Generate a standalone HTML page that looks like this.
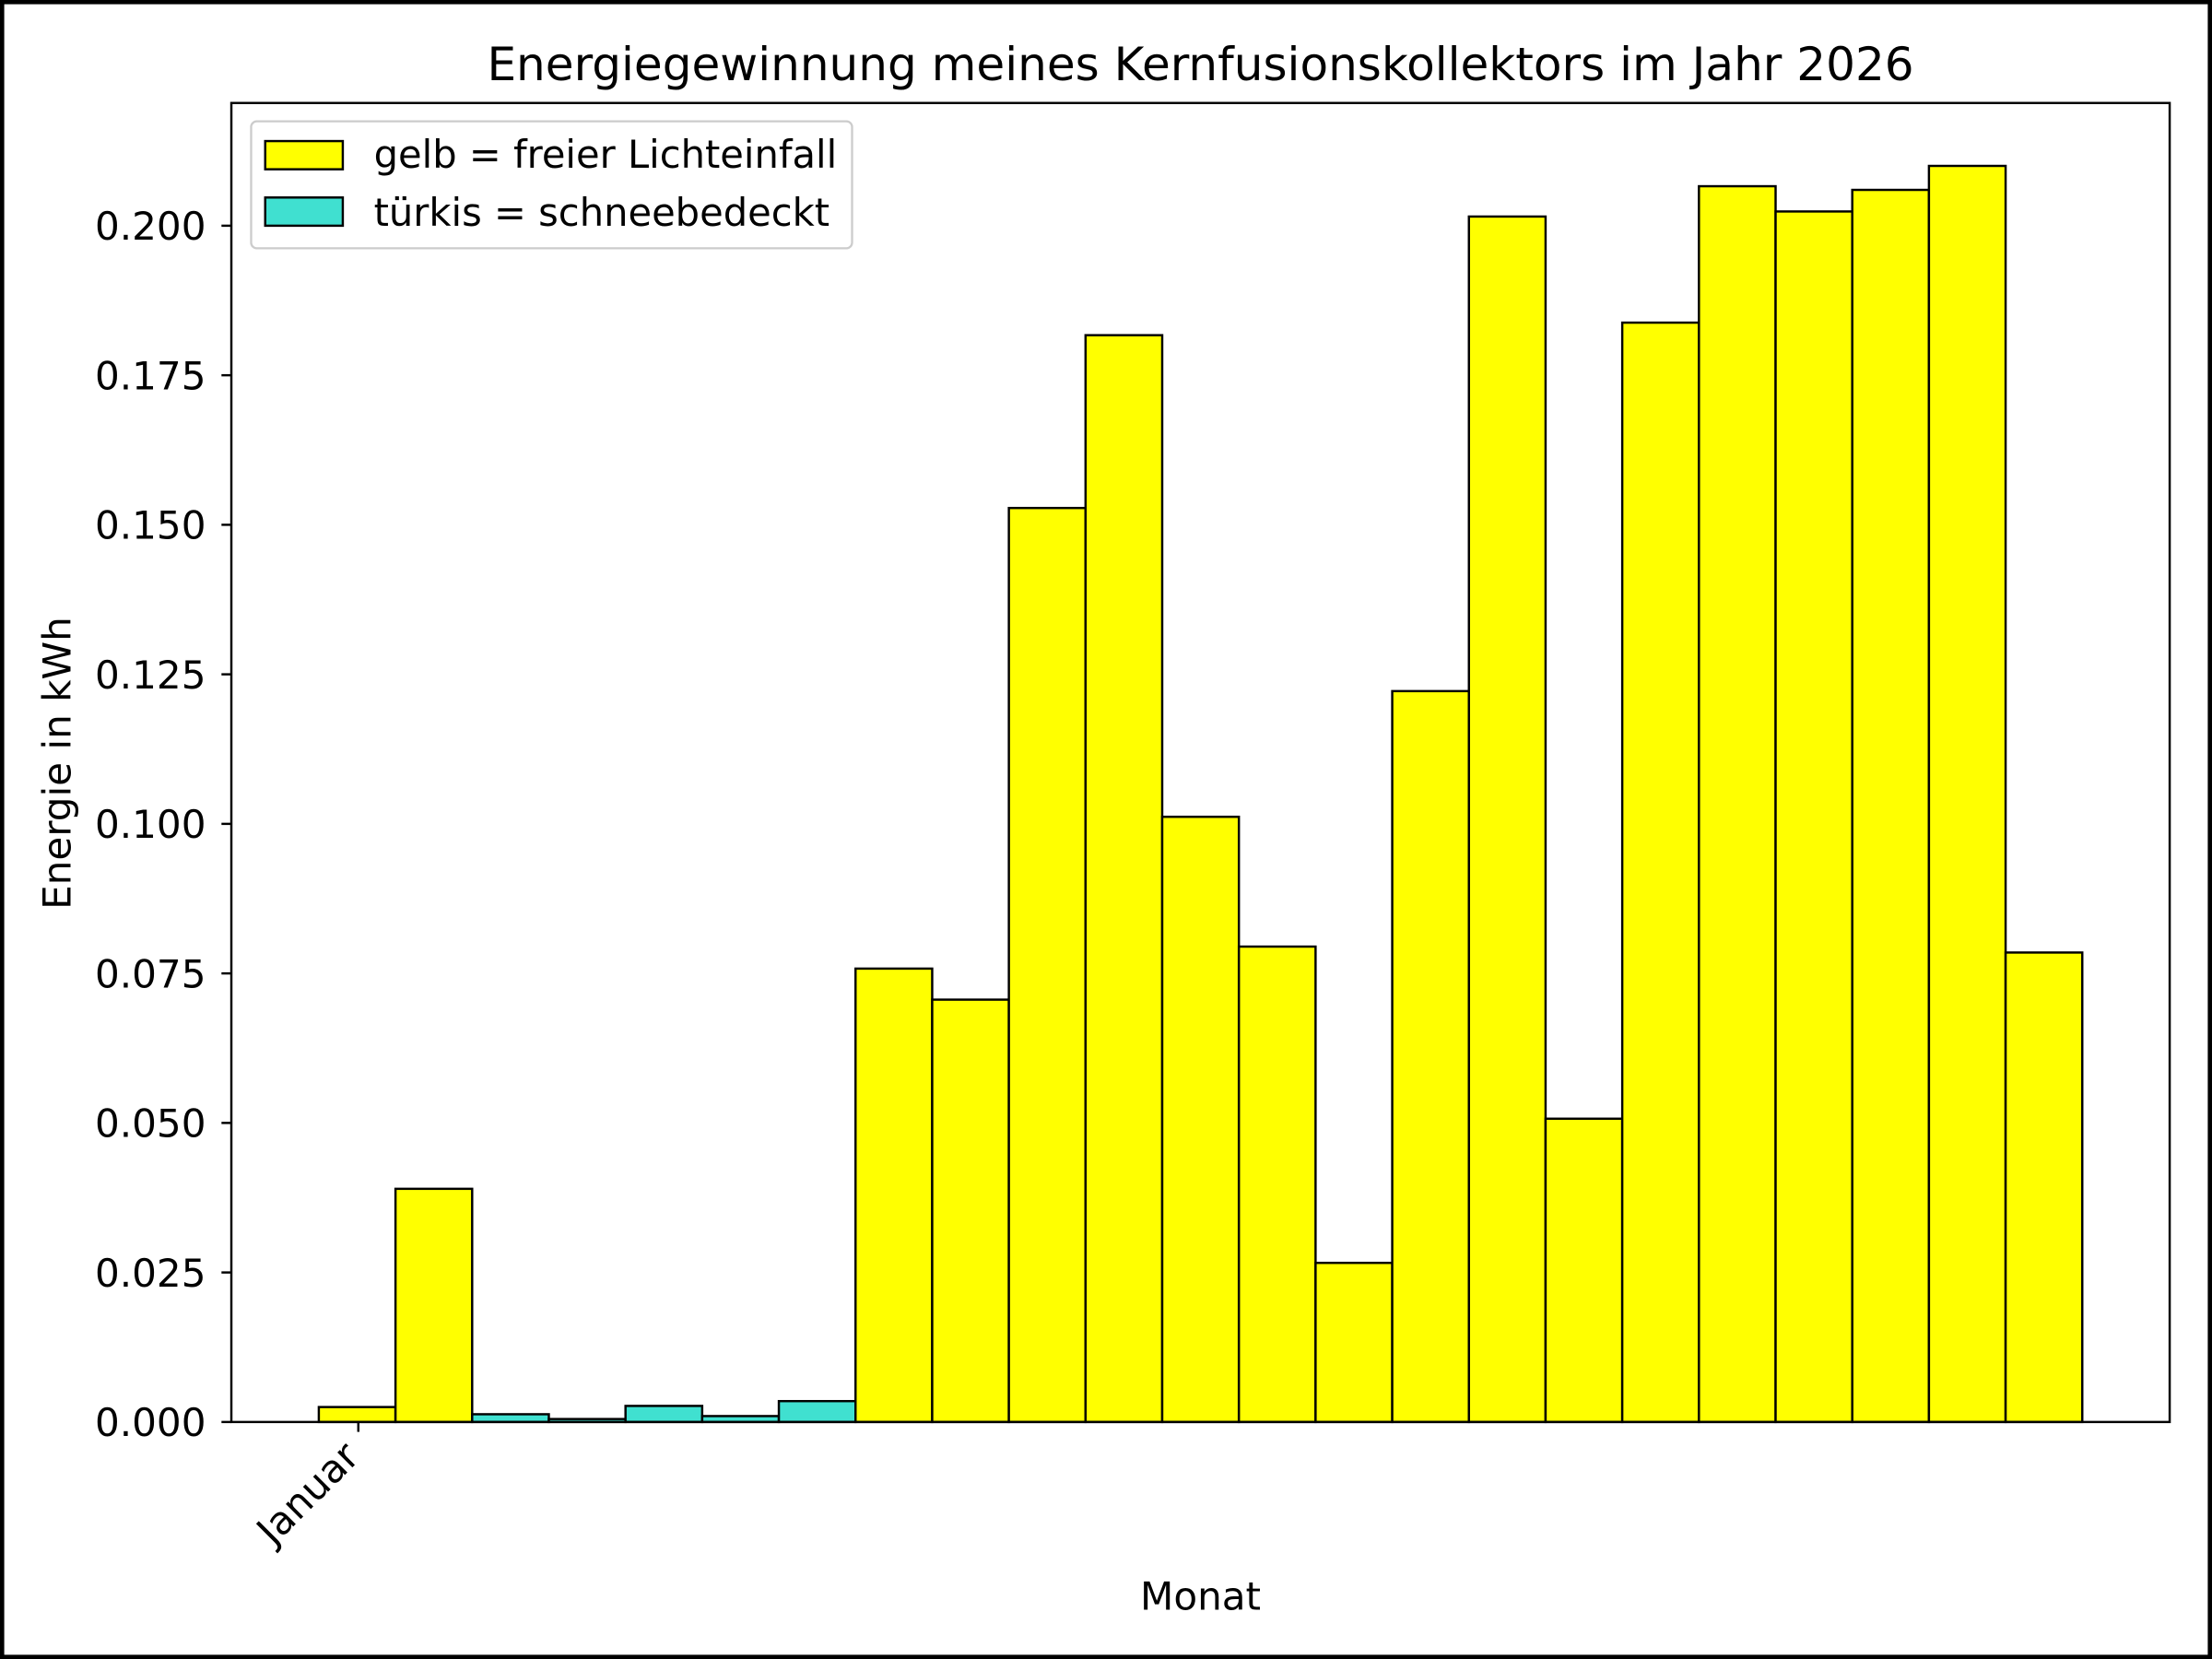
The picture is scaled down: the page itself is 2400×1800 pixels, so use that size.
<!DOCTYPE html>
<html><head><style>html,body{margin:0;padding:0;background:#fff}svg{display:block}</style></head>
<body>
<svg width="2400" height="1800" viewBox="0 0 1568 1176" xmlns="http://www.w3.org/2000/svg" font-family="'DejaVu Sans','Liberation Sans',sans-serif">
<rect x="1.5" y="1.5" width="1565" height="1173" fill="#fff" stroke="#000" stroke-width="3"/>
<g stroke="#000" stroke-width="1.6">
<rect x="226" y="997.4" width="54.35" height="10.6" fill="#ffff00"/>
<rect x="280.35" y="842.7" width="54.35" height="165.3" fill="#ffff00"/>
<rect x="334.7" y="1002.5" width="54.35" height="5.5" fill="#40e0d0"/>
<rect x="389.05" y="1005.9" width="54.35" height="2.1" fill="#40e0d0"/>
<rect x="443.4" y="996.6" width="54.35" height="11.4" fill="#40e0d0"/>
<rect x="497.75" y="1003.8" width="54.35" height="4.2" fill="#40e0d0"/>
<rect x="552.1" y="993.2" width="54.35" height="14.8" fill="#40e0d0"/>
<rect x="606.45" y="686.6" width="54.35" height="321.4" fill="#ffff00"/>
<rect x="660.8" y="708.6" width="54.35" height="299.4" fill="#ffff00"/>
<rect x="715.15" y="360.1" width="54.35" height="647.9" fill="#ffff00"/>
<rect x="769.5" y="237.6" width="54.35" height="770.4" fill="#ffff00"/>
<rect x="823.85" y="579" width="54.35" height="429" fill="#ffff00"/>
<rect x="878.2" y="671" width="54.35" height="337" fill="#ffff00"/>
<rect x="932.55" y="895.2" width="54.35" height="112.8" fill="#ffff00"/>
<rect x="986.9" y="489.9" width="54.35" height="518.1" fill="#ffff00"/>
<rect x="1041.25" y="153.5" width="54.35" height="854.5" fill="#ffff00"/>
<rect x="1095.6" y="793" width="54.35" height="215" fill="#ffff00"/>
<rect x="1149.95" y="228.7" width="54.35" height="779.3" fill="#ffff00"/>
<rect x="1204.3" y="132" width="54.35" height="876" fill="#ffff00"/>
<rect x="1258.65" y="149.9" width="54.35" height="858.1" fill="#ffff00"/>
<rect x="1313" y="134.6" width="54.35" height="873.4" fill="#ffff00"/>
<rect x="1367.35" y="117.6" width="54.35" height="890.4" fill="#ffff00"/>
<rect x="1421.7" y="675.2" width="54.35" height="332.8" fill="#ffff00"/>
</g>
<rect x="164" y="73" width="1374" height="935" fill="none" stroke="#000" stroke-width="1.6"/>
<g stroke="#000" stroke-width="1.6">
<line x1="157" y1="1008" x2="164" y2="1008"/><line x1="157" y1="902" x2="164" y2="902"/>
<line x1="157" y1="796" x2="164" y2="796"/><line x1="157" y1="690" x2="164" y2="690"/>
<line x1="157" y1="584" x2="164" y2="584"/><line x1="157" y1="478" x2="164" y2="478"/>
<line x1="157" y1="372" x2="164" y2="372"/><line x1="157" y1="266" x2="164" y2="266"/>
<line x1="157" y1="160" x2="164" y2="160"/>
<line x1="254" y1="1008" x2="254" y2="1015"/>
</g>
<g font-size="27.5" text-anchor="end" fill="#000">
<text x="146" y="1018">0.000</text><text x="146" y="912">0.025</text>
<text x="146" y="806">0.050</text><text x="146" y="700">0.075</text>
<text x="146" y="594">0.100</text><text x="146" y="488">0.125</text>
<text x="146" y="382">0.150</text><text x="146" y="276">0.175</text>
<text x="146" y="170">0.200</text>
<text transform="translate(256,1034) rotate(-45)">Januar</text>
</g>
<text x="851" y="1141" font-size="27.5" text-anchor="middle">Monat</text>
<text transform="translate(50,541) rotate(-90)" font-size="27.5" text-anchor="middle">Energie in kWh</text>
<text x="851" y="57" font-size="32.7" text-anchor="middle">Energiegewinnung meines Kernfusionskollektors im Jahr 2026</text>
<rect x="178" y="86" width="426" height="90" rx="4" fill="#fff" fill-opacity="0.8" stroke="#ccc" stroke-width="1.5"/>
<rect x="188" y="100" width="55" height="20" fill="#ffff00" stroke="#000" stroke-width="1.6"/>
<rect x="188" y="140" width="55" height="20" fill="#40e0d0" stroke="#000" stroke-width="1.6"/>
<text x="265" y="119" font-size="27.2">gelb = freier Lichteinfall</text>
<text x="265" y="160" font-size="27.2">türkis = schneebedeckt</text>
</svg>
</body></html>
